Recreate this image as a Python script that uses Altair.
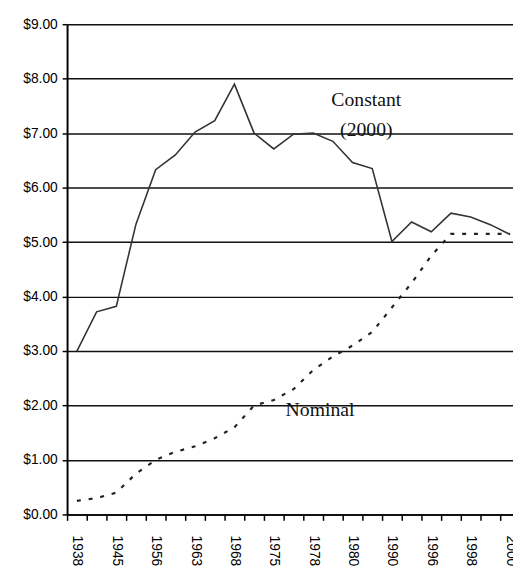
import json
import altair as alt
import pandas as pd

# ---- data ----
years = ["1938", "1939", "1945", "1950", "1956", "1961", "1963", "1967", "1968",
         "1974", "1975", "1976", "1978", "1979", "1980", "1981", "1990", "1991",
         "1996", "1997", "1998", "1999", "2000"]
constant = [3.00, 3.72, 3.82, 5.33, 6.33, 6.60, 7.02, 7.23, 7.90,
            7.00, 6.71, 6.98, 7.00, 6.85, 6.46, 6.35, 5.01, 5.37,
            5.19, 5.53, 5.46, 5.32, 5.14]
nominal = [0.25, 0.30, 0.40, 0.75, 1.00, 1.15, 1.25, 1.40, 1.60,
           2.00, 2.10, 2.30, 2.65, 2.90, 3.10, 3.35, 3.80, 4.25,
           4.75, 5.15, 5.15, 5.15, 5.15]
label_years = ["1938", "1945", "1956", "1963", "1968", "1975", "1978",
               "1980", "1990", "1996", "1998", "2000"]
y_ticks = [0, 1, 2, 3, 4, 5, 6, 7, 8, 9]

const_note_text = ["Constant", "(2000)"]
const_note_year = ["1980", "1980"]
const_note_value = [7.49, 6.95]
nom_note_text = ["Nominal"]
nom_note_year = ["1975"]
nom_note_value = [1.81]

df = pd.DataFrame({"year": years, "constant": constant, "nominal": nominal})
const_notes = pd.DataFrame({"year": const_note_year, "v": const_note_value, "t": const_note_text})
nom_notes = pd.DataFrame({"year": nom_note_year, "v": nom_note_value, "t": nom_note_text})

label_expr = "indexof(" + json.dumps(label_years) + ", datum.label) >= 0 ? datum.label : ''"

xscale = alt.Scale(type="band", domain=years, range=[0, 460], paddingInner=0, paddingOuter=0)
yscale = alt.Scale(domain=[0, 9], nice=False, zero=True)

x_axis = alt.Axis(
    title=None, labelExpr=label_expr, labelAngle=90, labelAlign="left",
    labelBaseline="middle", labelFont="Liberation Sans", labelFontSize=14,
    labelColor="#000", labelPadding=15, labelOverlap=False, labelFlush=False,
    tickBand="extent", tickSize=6, tickWidth=1.5, tickColor="#000",
    domainColor="#000", domainWidth=1.5, grid=False,
)
y_axis = alt.Axis(
    title=None, values=y_ticks, format="$.2f", labelFont="Liberation Sans",
    labelFontSize=14, labelColor="#000", labelPadding=5, tickSize=5,
    tickWidth=1.5, tickColor="#000", domainColor="#000", domainWidth=2,
    grid=True, gridColor="#111", gridWidth=1.5, gridOpacity=1,
)

x_enc = alt.X("year:N", sort=years, scale=xscale, bandPosition=0.5, axis=x_axis)

const_line = alt.Chart(df).mark_line(color="#333", strokeWidth=1.6).encode(
    x=x_enc,
    y=alt.Y("constant:Q", scale=yscale, axis=y_axis),
)
nom_line = alt.Chart(df).mark_line(color="#222", strokeWidth=2.2, strokeDash=[4, 8]).encode(
    x=alt.X("year:N", sort=years, scale=xscale, bandPosition=0.5),
    y=alt.Y("nominal:Q", scale=yscale),
)
const_text = alt.Chart(const_notes).mark_text(
    font="Liberation Serif", fontSize=20, color="#111", align="center",
    baseline="alphabetic", dx=14,
).encode(
    x=alt.X("year:N", sort=years, scale=xscale, bandPosition=0.5),
    y=alt.Y("v:Q", scale=yscale),
    text="t:N",
)
nom_text = alt.Chart(nom_notes).mark_text(
    font="Liberation Serif", fontSize=20, color="#111", align="left",
    baseline="alphabetic", dx=12,
).encode(
    x=alt.X("year:N", sort=years, scale=xscale, bandPosition=0.5),
    y=alt.Y("v:Q", scale=yscale),
    text="t:N",
)

chart = alt.layer(const_line, nom_line, const_text, nom_text).properties(
    width=453, height=498,
    autosize=alt.AutoSizeParams(type="none"),
    padding={"left": 60, "top": 12, "right": 0, "bottom": 53},
    background="white",
).configure_view(stroke=None)

chart.save("out.html", embed_options={"renderer": "svg", "actions": False})
